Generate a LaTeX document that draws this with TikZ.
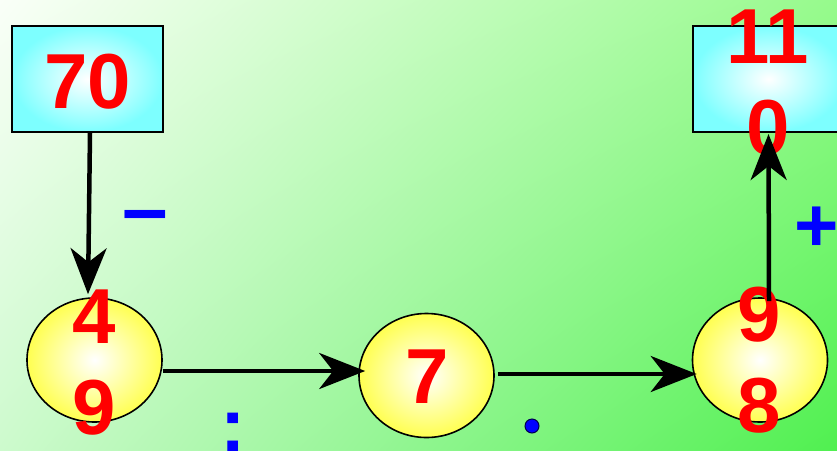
\documentclass[tikz,border=0pt]{standalone}
\usepackage{fontspec}
\setmainfont{Liberation Sans}
\usetikzlibrary{shapes.geometric,arrows.meta,calc,shadings}
\definecolor{bgTL}{RGB}{250,255,248}
\definecolor{bgTR}{RGB}{150,250,140}
\definecolor{bgBL}{RGB}{205,250,205}
\definecolor{bgBR}{RGB}{80,240,80}
\definecolor{boxcyan}{RGB}{125,255,255}
\definecolor{ballyellow}{RGB}{255,255,80}
\definecolor{numred}{RGB}{255,0,0}
\definecolor{opblue}{RGB}{0,0,255}
\tikzset{
  numbox/.style={rectangle, draw=black, line width=2pt, inner color=white, outer color=boxcyan, minimum width=151pt, minimum height=106pt, inner sep=0pt},
  ball/.style={ellipse, draw=black, line width=1.6pt, inner color=white, outer color=ballyellow, minimum width=135pt, minimum height=124pt, inner sep=0pt},
  numtext/.style={text=numred, font=\fontsize{78}{91}\selectfont\bfseries, align=center, inner sep=0pt, anchor=base},
  optext/.style={text=opblue, font=\fontsize{76}{80}\selectfont\bfseries, inner sep=0pt, anchor=base},
  arr/.style={line width=4.5pt, -{Stealth[length=46pt,width=36pt,inset=14pt]}}
}
\begin{document}
\begin{tikzpicture}[x=1pt,y=-1pt]
\useasboundingbox (0,0) rectangle (837,450);
\clip (0,0) rectangle (837,450);
\shade[upper left=bgTL, upper right=bgTR, lower left=bgBL, lower right=bgBR] (0,0) rectangle (837,450);
% shapes
\node[numbox] (b70) at (87.5,79) {};
\node[numbox] (b110) at (768.5,79) {};
\node[ball] (c1) at (94.5,360) {};
\node[ball] (c2) at (426.5,375.5) {};
\node[ball] (c3) at (760,360) {};
% numbers
\node[numtext] (t70) at (87.5,108) {70};
\node[numtext] (t110) at (768,154) {11\\0};
\node[numtext] (t49) at (94,434) {4\\9};
\node[numtext] (t7) at (427,403) {7};
\node[numtext] (t98) at (759,432) {9\\8};
% operators
\node[optext, font=\fontsize{82}{86}\selectfont\bfseries] (minus) at (145,236) {–};
\node[optext] (plus) at (817,251) {+};
\node[optext] (colon) at (233.5,451) {:};
\node[circle, fill=opblue, draw=black!70!blue, line width=1pt, minimum size=14pt, inner sep=0pt] (dot) at (532,426) {};
% arrows
\draw[arr] ([xshift=2.5pt]b70.south) -- ([xshift=-6.5pt,yshift=3pt]c1.north);
\draw[arr] ([yshift=-11pt]c1.east) -- ([xshift=7pt,yshift=4.5pt]c2.west);
\draw[arr] ([xshift=3pt,yshift=1.5pt]c2.east) -- ([xshift=5pt,yshift=-14pt]c3.west);
\draw[arr] ([xshift=9pt,yshift=-4pt]c3.north) -- ([yshift=-1pt]b110.south);
\end{tikzpicture}
\end{document}
